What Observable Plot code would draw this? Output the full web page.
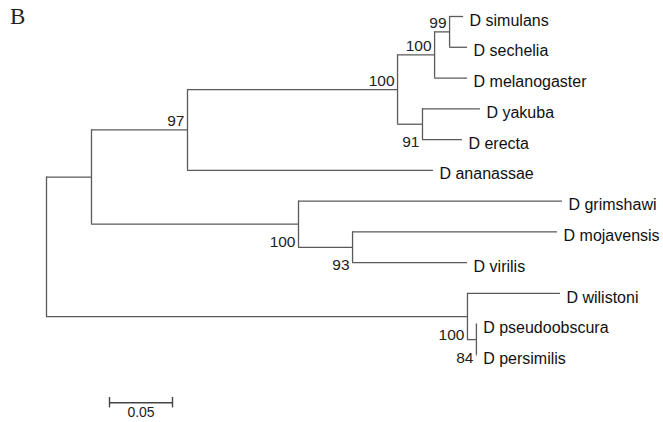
<!DOCTYPE html>
<html>
<head>
<meta charset="utf-8">
<script src="https://cdn.jsdelivr.net/npm/d3@7"></script>
<script src="https://cdn.jsdelivr.net/npm/@observablehq/plot@0.6"></script>
<style>
  html, body { margin: 0; padding: 0; background: #fff; }
  #wrap { position: relative; width: 663px; height: 422px; overflow: hidden; }
  #panel { position: absolute; left: 10px; top: 4px; font-family: "Liberation Serif", serif; font-size: 23px; color: #222; }
</style>
</head>
<body>
<div id="wrap"><div id="panel">B</div><div id="chart"></div></div>
<script>
// Tree nodes (pre-order), their parents, branch lengths (substitutions/site) and bootstrap support
const nodeIds = ["root", "A", "n97", "M", "S", "n99", "D simulans", "D sechelia", "D melanogaster",
  "Y", "D yakuba", "D erecta", "D ananassae", "H", "D grimshawi", "n93", "D mojavensis", "D virilis",
  "W", "D wilistoni", "P", "D pseudoobscura", "D persimilis"];
const parentIds = [null, "root", "A", "n97", "M", "S", "n99", "n99", "S",
  "M", "Y", "Y", "n97", "A", "H", "H", "n93", "n93",
  "root", "W", "W", "P", "P"];
const branchLengths = [0, 0.0357, 0.0762, 0.1667, 0.0294, 0.0119, 0.0111, 0.0143, 0.0262,
  0.0198, 0.0460, 0.0317, 0.1952, 0.1643, 0.2095, 0.0429, 0.1627, 0.0913,
  0.3341, 0.0738, 0.0071, 0.0006, 0.0006];
const bootstrapValues = [null, null, 97, 100, 100, 99, null, null, null,
  91, null, null, null, 100, null, 93, null, null,
  100, null, 84, null, null];
const scaleBarLength = 0.05;
const scaleBarLabel = "0.05";

// Build tree layout
const nodes = nodeIds.map((id, i) => ({id, parent: parentIds[i], len: branchLengths[i], boot: bootstrapValues[i], children: []}));
const byId = new Map(nodes.map(n => [n.id, n]));
nodes.forEach(n => { if (n.parent) byId.get(n.parent).children.push(n); });
let leafIndex = 0;
function layout(n, x0) {
  n.x = x0 + n.len;
  if (n.children.length === 0) { n.y = leafIndex++; }
  else {
    n.children.forEach(c => layout(c, n.x));
    n.y = (n.children[0].y + n.children[n.children.length - 1].y) / 2;
  }
}
const root = byId.get("root");
layout(root, 0);
const nLeaves = leafIndex;

const horiz = nodes.filter(n => n.parent).map(n => ({x1: byId.get(n.parent).x, x2: n.x, y: n.y}));
const vert = nodes.filter(n => n.children.length).map(n => ({x: n.x, y1: n.children[0].y, y2: n.children[n.children.length - 1].y}));
const leaves = nodes.filter(n => n.children.length === 0);
const boots = nodes.filter(n => n.boot != null).map(n => ({x: n.x, y: n.y, v: String(n.boot), above: n.y < byId.get(n.parent).y}));

const sbY = (nLeaves - 1) + 1.55;
const sbX1 = scaleBarLength, sbX2 = 2 * scaleBarLength;

const lineColor = "#5a5a5a";
const chart = Plot.plot({
  width: 663,
  height: 422,
  margin: 0,
  x: {domain: [0, 0.45], range: [46, 613], axis: null},
  y: {domain: [0, nLeaves - 1], range: [16, 354.5], axis: null},
  style: {background: "transparent"},
  marks: [
    Plot.ruleY(horiz, {x1: "x1", x2: "x2", y: "y", stroke: lineColor, strokeWidth: 1.3}),
    Plot.ruleX(vert, {x: "x", y1: "y1", y2: "y2", stroke: lineColor, strokeWidth: 1.3}),
    Plot.text(leaves, {x: "x", y: "y", text: "id", textAnchor: "start", dx: 6, dy: 4,
      fontFamily: "Liberation Sans, Arial, sans-serif", fontSize: 16, fill: "#111"}),
    Plot.text(boots.filter(d => d.above), {x: "x", y: "y", text: "v", textAnchor: "end", dx: -3, dy: -9,
      fontFamily: "Liberation Sans, Arial, sans-serif", fontSize: 15.5, fill: "#222"}),
    Plot.text(boots.filter(d => !d.above), {x: "x", y: "y", text: "v", textAnchor: "end", dx: -3, dy: 18,
      fontFamily: "Liberation Sans, Arial, sans-serif", fontSize: 15.5, fill: "#222"}),
    // scale bar
    Plot.ruleY([sbY], {x1: sbX1, x2: sbX2, stroke: "#444", strokeWidth: 1.4}),
    Plot.ruleX([sbX1, sbX2], {y1: sbY - 0.17, y2: sbY + 0.17, stroke: "#444", strokeWidth: 1.4}),
    Plot.text([scaleBarLabel], {x: (sbX1 + sbX2) / 2, y: sbY, text: d => d, lineAnchor: "top", dy: 4,
      fontFamily: "Liberation Sans, Arial, sans-serif", fontSize: 14, fill: "#222"})
  ]
});
document.getElementById("chart").appendChild(chart);
</script>
</body>
</html>
